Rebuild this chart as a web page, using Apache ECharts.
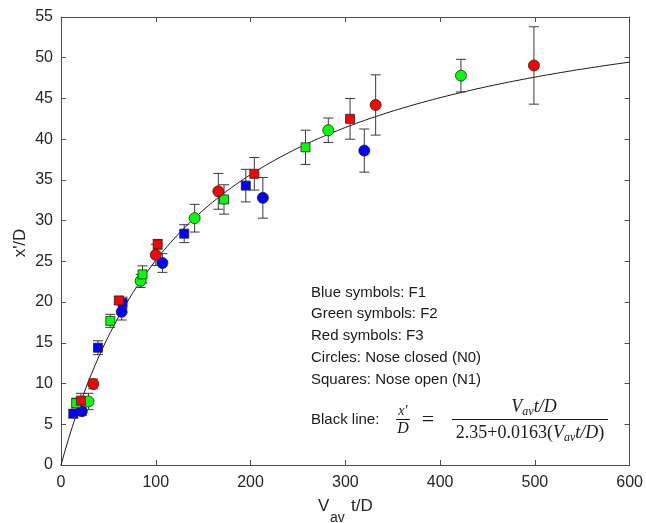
<!DOCTYPE html>
<html>
<head>
<meta charset="utf-8">
<script src="https://cdn.jsdelivr.net/npm/echarts@6/dist/echarts.min.js"></script>
<style>
html,body{margin:0;padding:0;background:#fff;}
#chart{width:646px;height:523px;}
</style>
</head>
<body>
<div id="chart"></div>
<script>
// ---- data ----
var xTicks = [0, 100, 200, 300, 400, 500, 600];
var yTicks = [0, 5, 10, 15, 20, 25, 30, 35, 40, 45, 50, 55];

var blueCircleX   = [22, 64, 107, 213, 320];
var blueCircleY   = [6.6, 18.8, 24.8, 32.8, 38.6];
var blueCircleErr = [0.5, 1.0, 1.15, 2.5, 2.65];

var blueSquareX   = [13, 39, 65, 130, 195];
var blueSquareY   = [6.3, 14.4, 19.9, 28.4, 34.3];
var blueSquareErr = [0.5, 0.85, 0.7, 1.1, 2.0];

var greenCircleX   = [29, 84, 141, 282, 422];
var greenCircleY   = [7.8, 22.6, 30.3, 41.1, 47.8];
var greenCircleErr = [1.0, 0.8, 1.7, 1.5, 2.0];

var greenSquareX   = [16, 52, 86, 172, 258];
var greenSquareY   = [7.6, 17.7, 23.4, 32.6, 39.0];
var greenSquareErr = [0.6, 0.8, 1.05, 1.8, 2.1];

var redCircleX   = [34, 100, 166, 332, 499];
var redCircleY   = [9.95, 25.8, 33.6, 44.2, 49.05];
var redCircleErr = [0.6, 1.3, 2.2, 3.7, 4.75];

var redSquareX   = [21, 61, 102, 204, 305];
var redSquareY   = [7.9, 20.2, 27.1, 35.75, 42.5];
var redSquareErr = [0.9, 0.5, 0.6, 2.0, 2.5];

// fit shown in the chart: x'/D = (V t/D) / (2.35 + 0.0163 (V t/D))
var fitA = 2.35, fitB = 0.0163;
var fitXs = [];
for (var v = 0; v <= 600; v += 4) fitXs.push(v);

// ---- build ----
function pts(xs, ys) { return xs.map(function (x, i) { return [x, ys[i]]; }); }
function errs(xs, ys, es) { return xs.map(function (x, i) { return [x, ys[i] - es[i], ys[i] + es[i]]; }); }

var groups = [
  {x: blueCircleX, y: blueCircleY, e: blueCircleErr, c: '#0000ff', s: 'circle'},
  {x: blueSquareX, y: blueSquareY, e: blueSquareErr, c: '#0000ff', s: 'rect'},
  {x: greenCircleX, y: greenCircleY, e: greenCircleErr, c: '#00ff00', s: 'circle'},
  {x: greenSquareX, y: greenSquareY, e: greenSquareErr, c: '#00ff00', s: 'rect'},
  {x: redCircleX, y: redCircleY, e: redCircleErr, c: '#ff0000', s: 'circle'},
  {x: redSquareX, y: redSquareY, e: redSquareErr, c: '#ff0000', s: 'rect'}
];

var series = [];
series.push({
  type: 'line',
  data: fitXs.map(function (x) { return [x, x / (fitA + fitB * x)]; }),
  showSymbol: false,
  lineStyle: {color: '#1a1a1a', width: 1},
  z: 2, silent: true
});

groups.forEach(function (g) {
  series.push({
    type: 'custom',
    data: errs(g.x, g.y, g.e),
    z: 3,
    silent: true,
    renderItem: function (params, api) {
      var p1 = api.coord([api.value(0), api.value(1)]);
      var p2 = api.coord([api.value(0), api.value(2)]);
      var w = 5;
      var st = {stroke: '#3a3a3a', lineWidth: 1};
      return {
        type: 'group',
        children: [
          {type: 'line', shape: {x1: p1[0], y1: p1[1], x2: p2[0], y2: p2[1]}, style: st},
          {type: 'line', shape: {x1: p1[0] - w, y1: p1[1], x2: p1[0] + w, y2: p1[1]}, style: st},
          {type: 'line', shape: {x1: p2[0] - w, y1: p2[1], x2: p2[0] + w, y2: p2[1]}, style: st}
        ]
      };
    }
  });
  series.push({
    type: 'scatter',
    data: pts(g.x, g.y),
    symbol: g.s,
    symbolSize: g.s === 'circle' ? 11 : 9,
    itemStyle: {color: g.c, borderColor: '#222', borderWidth: 0.8, opacity: 1},
    z: 4, silent: true
  });
});

var axisLineCol = '#4d4d4d';
var sans = 'Liberation Sans, Arial, sans-serif';
var labelStyle = {color: '#262626', fontSize: 16, fontFamily: sans};

var mathFont = 'Liberation Serif, DejaVu Serif, serif';
var richFrac = {
  v: {fontFamily: mathFont, fontStyle: 'italic', fontSize: 18, fill: '#1a1a1a', verticalAlign: 'middle', lineHeight: 22},
  sub: {fontFamily: mathFont, fontStyle: 'italic', fontSize: 12, fill: '#1a1a1a', verticalAlign: 'bottom', lineHeight: 22},
  n: {fontFamily: mathFont, fontSize: 18, fill: '#1a1a1a', verticalAlign: 'middle', lineHeight: 22}
};

function axisCommon(extra) {
  return Object.assign({
    type: 'value',
    axisLine: {show: true, onZero: false, lineStyle: {color: axisLineCol}},
    axisTick: {show: true, inside: true, length: 5, lineStyle: {color: axisLineCol}},
    splitLine: {show: false}
  }, extra);
}

var option = {
  animation: false,
  backgroundColor: '#fff',
  grid: {left: 61, right: 15, top: 17, bottom: 58, show: false},
  xAxis: [
    axisCommon({position: 'bottom', min: xTicks[0], max: xTicks[xTicks.length - 1], interval: 100,
      axisLabel: Object.assign({margin: 10}, labelStyle)}),
    axisCommon({position: 'top', min: xTicks[0], max: xTicks[xTicks.length - 1], interval: 100,
      axisLabel: {show: false}})
  ],
  yAxis: [
    axisCommon({position: 'left', min: yTicks[0], max: yTicks[yTicks.length - 1], interval: 5,
      axisLabel: Object.assign({margin: 8}, labelStyle)}),
    axisCommon({position: 'right', min: yTicks[0], max: yTicks[yTicks.length - 1], interval: 5,
      axisLabel: {show: false}})
  ],
  series: series,
  graphic: [
    // y axis title
    {type: 'text', x: 20, y: 243, rotation: Math.PI / 2, style: {text: "x'/D", fill: '#262626', font: '17px ' + sans, align: 'center', verticalAlign: 'middle'}},
    // x axis title
    {type: 'text', x: 318, y: 506, style: {text: 'V', fill: '#262626', font: '17px ' + sans, align: 'left', verticalAlign: 'middle'}},
    {type: 'text', x: 330, y: 518, style: {text: 'av', fill: '#262626', font: '14px ' + sans, align: 'left', verticalAlign: 'middle'}},
    {type: 'text', x: 351, y: 506, style: {text: 't/D', fill: '#262626', font: '17px ' + sans, align: 'left', verticalAlign: 'middle'}},
    // annotation block
    {type: 'text', x: 311, y: 293, style: {text: 'Blue symbols: F1', fill: '#1a1a1a', font: '15px ' + sans, verticalAlign: 'middle'}},
    {type: 'text', x: 311, y: 314, style: {text: 'Green symbols: F2', fill: '#1a1a1a', font: '15px ' + sans, verticalAlign: 'middle'}},
    {type: 'text', x: 311, y: 336, style: {text: 'Red symbols: F3', fill: '#1a1a1a', font: '15px ' + sans, verticalAlign: 'middle'}},
    {type: 'text', x: 311, y: 358, style: {text: 'Circles: Nose closed (N0)', fill: '#1a1a1a', font: '15px ' + sans, verticalAlign: 'middle'}},
    {type: 'text', x: 311, y: 380, style: {text: 'Squares: Nose open (N1)', fill: '#1a1a1a', font: '15px ' + sans, verticalAlign: 'middle'}},
    {type: 'text', x: 311, y: 420, style: {text: 'Black line:', fill: '#1a1a1a', font: '15px ' + sans, verticalAlign: 'middle'}},
    // small fraction x'/D
    {type: 'text', x: 403, y: 411, style: {text: "x\u2032", fill: '#1a1a1a', font: 'italic 14px ' + mathFont, align: 'center', verticalAlign: 'middle'}},
    {type: 'line', shape: {x1: 396, y1: 419.5, x2: 410, y2: 419.5}, style: {stroke: '#1a1a1a', lineWidth: 1}},
    {type: 'text', x: 403, y: 429, style: {text: 'D', fill: '#1a1a1a', font: 'italic 16px ' + mathFont, align: 'center', verticalAlign: 'middle'}},
    {type: 'text', x: 428, y: 420, style: {text: '=', fill: '#1a1a1a', font: '22px ' + mathFont, align: 'center', verticalAlign: 'middle'}},
    // big fraction
    {type: 'text', x: 534, y: 407, style: {text: '{v|V}{sub|av}{v|t/D}', rich: richFrac, align: 'center', verticalAlign: 'middle'}},
    {type: 'line', shape: {x1: 452, y1: 419.5, x2: 608, y2: 419.5}, style: {stroke: '#1a1a1a', lineWidth: 1}},
    {type: 'text', x: 530, y: 433, style: {text: '{n|2.35+0.0163(}{v|V}{sub|av}{v|t/D}{n|)}', rich: richFrac, align: 'center', verticalAlign: 'middle'}}
  ]
};

var chart = echarts.init(document.getElementById('chart'), null, {renderer: 'canvas'});
chart.setOption(option);
</script>
</body>
</html>
